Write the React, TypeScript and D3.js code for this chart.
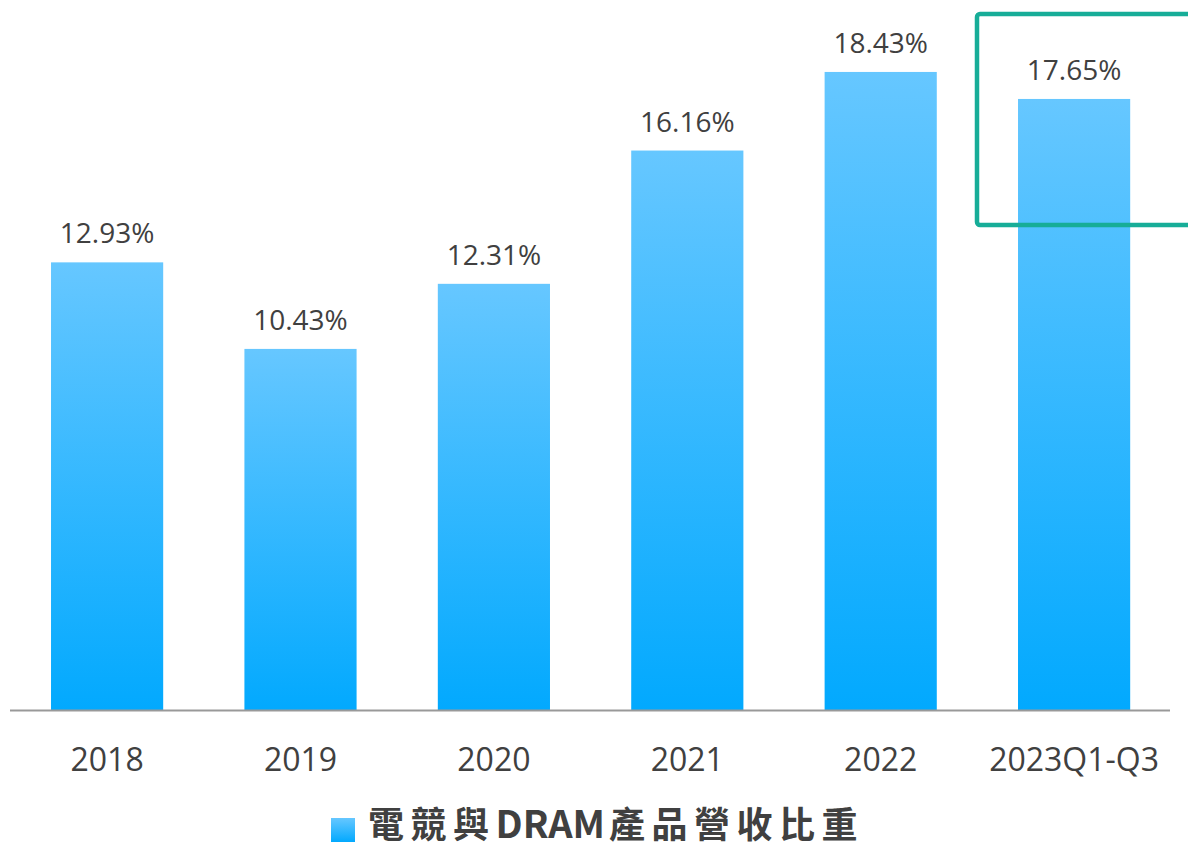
import React from "react";
import * as d3 from "d3";

const categories = ["2018", "2019", "2020", "2021", "2022", "2023Q1-Q3"];
const values = [12.93, 10.43, 12.31, 16.16, 18.43, 17.65];
const seriesNameParts = ["電競與", "DRAM", "產品營收比重"];

const W = 1188;
const H = 848;

export default function App() {
  const x = d3.scaleBand<string>().domain(categories).range([10.4, 1170.8]).paddingInner(0.42).paddingOuter(0.21);
  const y = d3.scaleLinear().domain([0, 20]).range([710, 17.6]);
  const textColor = "#404040";
  const font = "'Open Sans', 'Noto Sans', sans-serif";
  return (
    <svg width={W} height={H} style={{ position: "fixed", left: 0, top: 0, background: "#fff" }}>
      <defs>
        <linearGradient id="barGrad" x1="0" y1="0" x2="0" y2="1">
          <stop offset="0%" stopColor="#66c7ff" />
          <stop offset="100%" stopColor="#02a9fe" />
        </linearGradient>
      </defs>
      {categories.map((c, i) => (
        <rect key={c} x={x(c)} y={y(values[i])} width={x.bandwidth()} height={y(0) - y(values[i])} fill="url(#barGrad)" />
      ))}
      <line x1={10} x2={1170} y1={y(0) + 0.5} y2={y(0) + 0.5} stroke="#999" strokeWidth={2} />
      {categories.map((c, i) => (
        <text key={"v" + c} x={(x(c) as number) + x.bandwidth() / 2} y={y(values[i]) - 19} textAnchor="middle" fontFamily={font} fontSize={28} fill={textColor}>
          {values[i].toFixed(2) + "%"}
        </text>
      ))}
      {categories.map((c) => (
        <text key={"c" + c} x={(x(c) as number) + x.bandwidth() / 2} y={771} textAnchor="middle" fontFamily={font} fontSize={32} fill={textColor}>
          {c}
        </text>
      ))}
      <rect x={977} y={14} width={260} height={211} rx={3} fill="none" stroke="#17ad98" strokeWidth={4.5} />
      <rect x={331} y={818} width={24} height={24} fill="url(#barGrad)" />
      <text x={368} y={838} fontFamily="'Noto Sans CJK TC', 'Noto Sans', sans-serif" fontWeight="bold" fontSize={36} fill={textColor}>
        <tspan letterSpacing={6.5}>{seriesNameParts[0]}</tspan>
        <tspan fontSize={38} letterSpacing={0}>{seriesNameParts[1]}</tspan>
        <tspan dx={4} letterSpacing={6.5}>{seriesNameParts[2]}</tspan>
      </text>
    </svg>
  );
}
